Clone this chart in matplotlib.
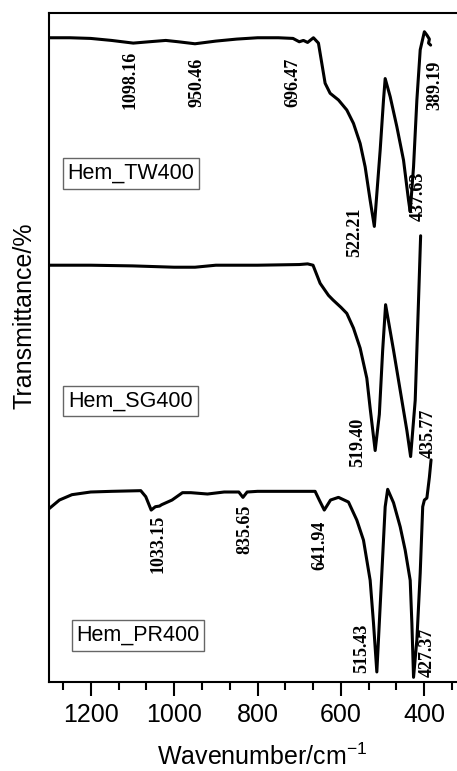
import matplotlib
matplotlib.use("Agg")
import matplotlib.pyplot as plt

# ---- data (wavenumber in cm^-1, transmittance in arbitrary offset units) ----
tw_w = [1300, 1250, 1200, 1150, 1098, 1060, 1020, 990, 950, 900, 850, 800, 750,
        715, 700, 690, 680, 670, 666, 654, 646, 638, 626, 606, 586, 570, 554,
        542, 530, 520, 506, 498, 494, 482, 466, 450, 438, 434, 426, 418, 410,
        400, 394, 388, 390, 385]
tw_t = [96.3, 96.3, 96.2, 95.9, 95.5, 95.7, 95.9, 95.7, 95.4, 95.8, 96.1, 96.3, 96.3,
        96.2, 95.7, 95.9, 95.6, 96.1, 96.3, 95.5, 92.5, 89.5, 88.0, 87.0, 85.5, 83.5, 80.5,
        77.0, 72.0, 68.1, 79.5, 87.0, 90.2, 87.5, 83.0, 78.0, 72.0, 70.3, 77.0, 87.0, 94.5,
        97.2, 96.7, 96.1, 95.5, 95.2]

sg_w = [1300, 1200, 1100, 1000, 950, 900, 800, 700, 680, 667, 650, 630, 619, 600,
        586, 570, 554, 538, 530, 518, 508, 500, 493, 474, 458, 442, 433, 422, 414, 409]
sg_t = [62.3, 62.3, 62.2, 62.0, 62.0, 62.3, 62.3, 62.4, 62.5, 62.3, 59.6, 57.8, 57.1, 56.0,
        55.1, 52.9, 49.9, 45.4, 40.9, 34.6, 40.0, 49.6, 56.4, 49.6, 43.6, 37.6, 33.7, 42.1, 57.1, 66.7]

pr_w = [1300, 1275, 1245, 1200, 1150, 1080, 1068, 1055, 1045, 1035, 1030, 1005, 980,
        960, 920, 880, 845, 835, 825, 800, 662, 652, 640, 625, 606, 582, 562, 546,
        530, 522, 514, 502, 494, 488, 474, 458, 446, 434, 430, 426, 418, 410, 404,
        400, 394, 388, 384]
pr_t = [25.9, 27.2, 28.0, 28.4, 28.5, 28.6, 27.7, 25.7, 26.2, 26.3, 26.5, 27.2, 28.3,
        28.3, 28.1, 28.4, 28.4, 27.6, 28.4, 28.5, 28.5, 27.2, 25.7, 27.2, 27.6, 26.9, 24.2, 21.2,
        15.2, 8.8, 1.5, 16.3, 26.2, 28.8, 26.8, 23.2, 19.7, 15.2, 8.8, 0.7, 6.3, 16.3, 26.2,
        27.2, 27.5, 30.6, 33.2]

sample_names = ["Hem_TW400", "Hem_SG400", "Hem_PR400"]

peak_labels = ["1098.16", "950.46", "696.47", "389.19", "522.21", "437.63",
               "519.40", "435.77",
               "1033.15", "835.65", "641.94", "515.43", "427.37"]

x_ticks = [1200, 1000, 800, 600, 400]

# ---- figure ----
W, H = 457, 771
fig = plt.figure(figsize=(W / 100, H / 100), dpi=100)
left_px, right_px, top_px, bot_px = 49, 459, 13, 682
ax = fig.add_axes([left_px / W, 1 - bot_px / H, (right_px - left_px) / W, (bot_px - top_px) / H])

for w, t in [(tw_w, tw_t), (sg_w, sg_t), (pr_w, pr_t)]:
    ax.plot(w, t, color="black", lw=2.2, solid_joinstyle="round", solid_capstyle="round")

ax.set_xlim(1300, 317)
ax.set_ylim(0, 100)
ax.set_yticks([])
ax.set_xticks(x_ticks)
ax.set_xticks([1267, 1133, 1067, 933, 867, 733, 667, 533, 467, 333], minor=True)
ax.tick_params(axis="x", which="major", direction="out", length=10, width=1.5,
               labelsize=18, pad=5)
ax.tick_params(axis="x", which="minor", direction="out", length=5.5, width=1.5)
for s in ax.spines.values():
    s.set_linewidth(1.5)
ax.spines["right"].set_visible(False)

lab_font = dict(family="Liberation Sans", fontsize=18)
for lbl in ax.get_xticklabels():
    lbl.set_family("Liberation Sans")

fig.text(262 / W, 1 - 757 / H, "Wavenumber/cm$^{\\mathregular{-1}}$", ha="center",
         va="center", **lab_font)
fig.text(25 / W, 1 - 316 / H, "Transmittance/%", rotation=90, ha="center",
         va="center", **lab_font)

# px->data helpers for label placement
def px2data(px, py):
    x = 1300 - (px - left_px) / (right_px - left_px) * (1300 - 317)
    y = (bot_px - py) / (bot_px - top_px) * 100
    return x, y

label_pos = [(130, 80), (197, 82), (293, 82), (435, 85), (355, 232), (418, 196),
             (358, 442), (428, 433),
             (158, 544), (245, 529), (320, 545), (362, 648), (427, 652)]
for txt, (px, py) in zip(peak_labels, label_pos):
    x, y = px2data(px, py)
    ax.text(x, y, txt, rotation=90, ha="center", va="center",
            family="Liberation Serif", fontweight="bold", fontsize=13)

box_pos = [(131, 173.5), (130.5, 401), (138, 635.5)]
for name, (px, py) in zip(sample_names, box_pos):
    x, y = px2data(px, py)
    ax.text(x, y, name, ha="center", va="center", family="Liberation Sans",
            fontsize=15.5,
            bbox=dict(boxstyle="square,pad=0.22", fc="white", ec="#666666", lw=1.0))

fig.savefig("out.png", dpi=100, facecolor="white")
